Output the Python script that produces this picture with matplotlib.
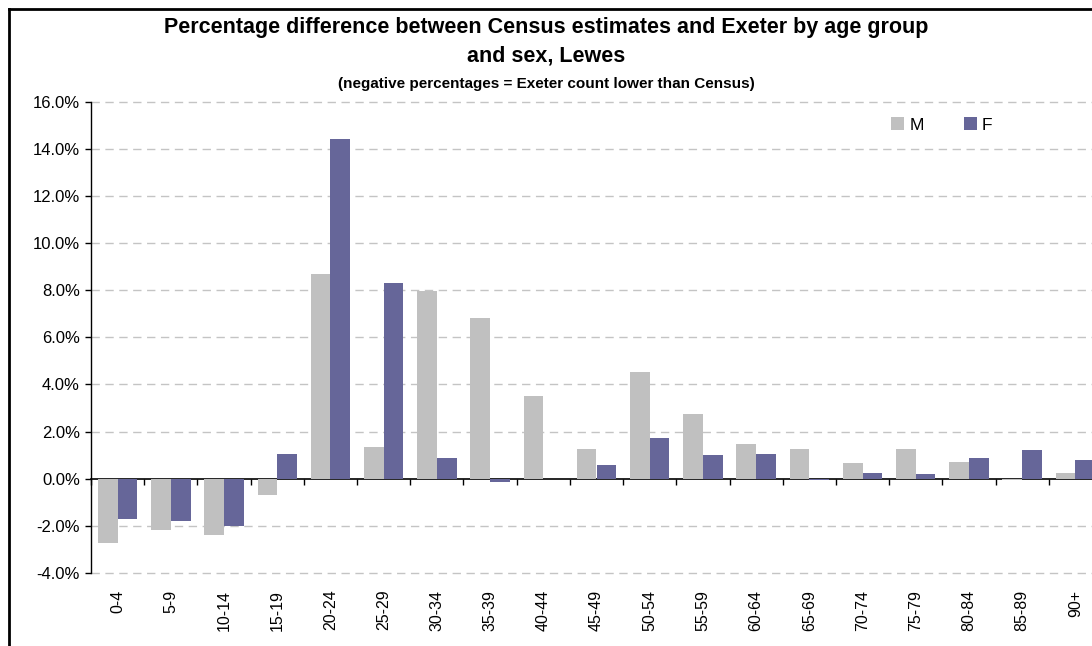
import matplotlib
matplotlib.use("Agg")
import matplotlib.pyplot as plt
import numpy as np
from matplotlib.lines import Line2D
from matplotlib.ticker import FuncFormatter, FixedLocator, NullFormatter

# Age groups and percentage differences (Exeter vs Census), Lewes
age_groups = ["0-4", "5-9", "10-14", "15-19", "20-24", "25-29", "30-34", "35-39",
              "40-44", "45-49", "50-54", "55-59", "60-64", "65-69", "70-74",
              "75-79", "80-84", "85-89", "90+"]
male = [-2.71, -2.16, -2.37, -0.68, 8.67, 1.35, 7.95, 6.81, 3.51, 1.27,
        4.52, 2.75, 1.48, 1.27, 0.68, 1.27, 0.72, -0.05, 0.25]
female = [-1.69, -1.78, -2.00, 1.06, 14.42, 8.29, 0.89, -0.12, 0.00, 0.59,
          1.73, 1.01, 1.06, -0.06, 0.25, 0.21, 0.89, 1.23, 0.81]
y_ticks = [-4, -2, 0, 2, 4, 6, 8, 10, 12, 14, 16]

plt.rcParams["font.family"] = ["Liberation Sans", "DejaVu Sans"]

W, H = 1092, 646
fig = plt.figure(figsize=(W / 100, H / 100), dpi=100)
fig.patch.set_facecolor("white")

# plot area in pixel terms (right edge runs past the figure)
left_px, right_px, top_px, bot_px = 91, 1102, 101.7, 573
ax = fig.add_axes([left_px / W, 1 - bot_px / H,
                   (right_px - left_px) / W, (bot_px - top_px) / H])

x = np.arange(len(age_groups))
bw = 0.37
ax.bar(x - bw / 2, np.array(male) / 100, width=bw, color="#C0C0C0", label="M", zorder=3)
ax.bar(x + bw / 2, np.array(female) / 100, width=bw, color="#666699", label="F", zorder=3)

ax.set_xlim(-0.5, len(age_groups) - 0.5)
ax.set_ylim(-0.04, 0.16)

# y axis
ax.set_yticks([t / 100 for t in y_ticks])
ax.yaxis.set_major_formatter(FuncFormatter(lambda v, p: f"{v*100:.1f}%"))
ax.tick_params(axis="y", direction="out", length=4, width=1, color="black",
               labelsize=12, pad=4)
for t in y_ticks:
    if t != 0:
        ax.axhline(t / 100, color="#C4C4C4", lw=1.0, dashes=(6, 4), zorder=1,
                   clip_on=False)

# category labels along the bottom
ax.set_xticks(x)
ax.set_xticklabels(age_groups, rotation=90, fontsize=11.5)
ax.tick_params(axis="x", length=0, pad=12)

for s in ["top", "right", "bottom"]:
    ax.spines[s].set_visible(False)
ax.spines["left"].set_color("black")
ax.spines["left"].set_linewidth(1)

# category axis crossing at zero with boundary tick marks
sec = ax.secondary_xaxis(0.2)
sec.xaxis.set_major_locator(FixedLocator(list(np.arange(len(age_groups) + 1) - 0.5)))
sec.xaxis.set_major_formatter(NullFormatter())
sec.tick_params(axis="x", direction="out", length=4, width=1, color="black")
sec.spines["bottom"].set_color("black")
sec.spines["bottom"].set_linewidth(1.2)
for s in ["top", "left", "right"]:
    sec.spines[s].set_visible(False)

# legend
leg = ax.legend(loc="center left", bbox_to_anchor=(891 / W, 1 - 125 / H),
                bbox_transform=fig.transFigure, ncol=2, frameon=False,
                fontsize=12.5, handlelength=0.75, handleheight=0.75,
                handletextpad=0.3, columnspacing=2.3, borderpad=0,
                borderaxespad=0)

# titles
fig.text(0.5, 1 - 28 / H, "Percentage difference between Census estimates and Exeter by age group",
         ha="center", va="center", fontsize=15.5, fontweight="bold")
fig.text(0.5, 1 - 56 / H, "and sex, Lewes",
         ha="center", va="center", fontsize=15.5, fontweight="bold")
fig.text(0.5, 1 - 84 / H, "(negative percentages = Exeter count lower than Census)",
         ha="center", va="center", fontsize=11, fontweight="bold")

# chart frame
fig.add_artist(Line2D([9 / W, 1.02], [1 - 9 / H, 1 - 9 / H], color="black", lw=2,
                      transform=fig.transFigure))
fig.add_artist(Line2D([9 / W, 9 / W], [-0.02, 1 - 9 / H], color="black", lw=2,
                      transform=fig.transFigure))

fig.savefig("out.png", dpi=100)
